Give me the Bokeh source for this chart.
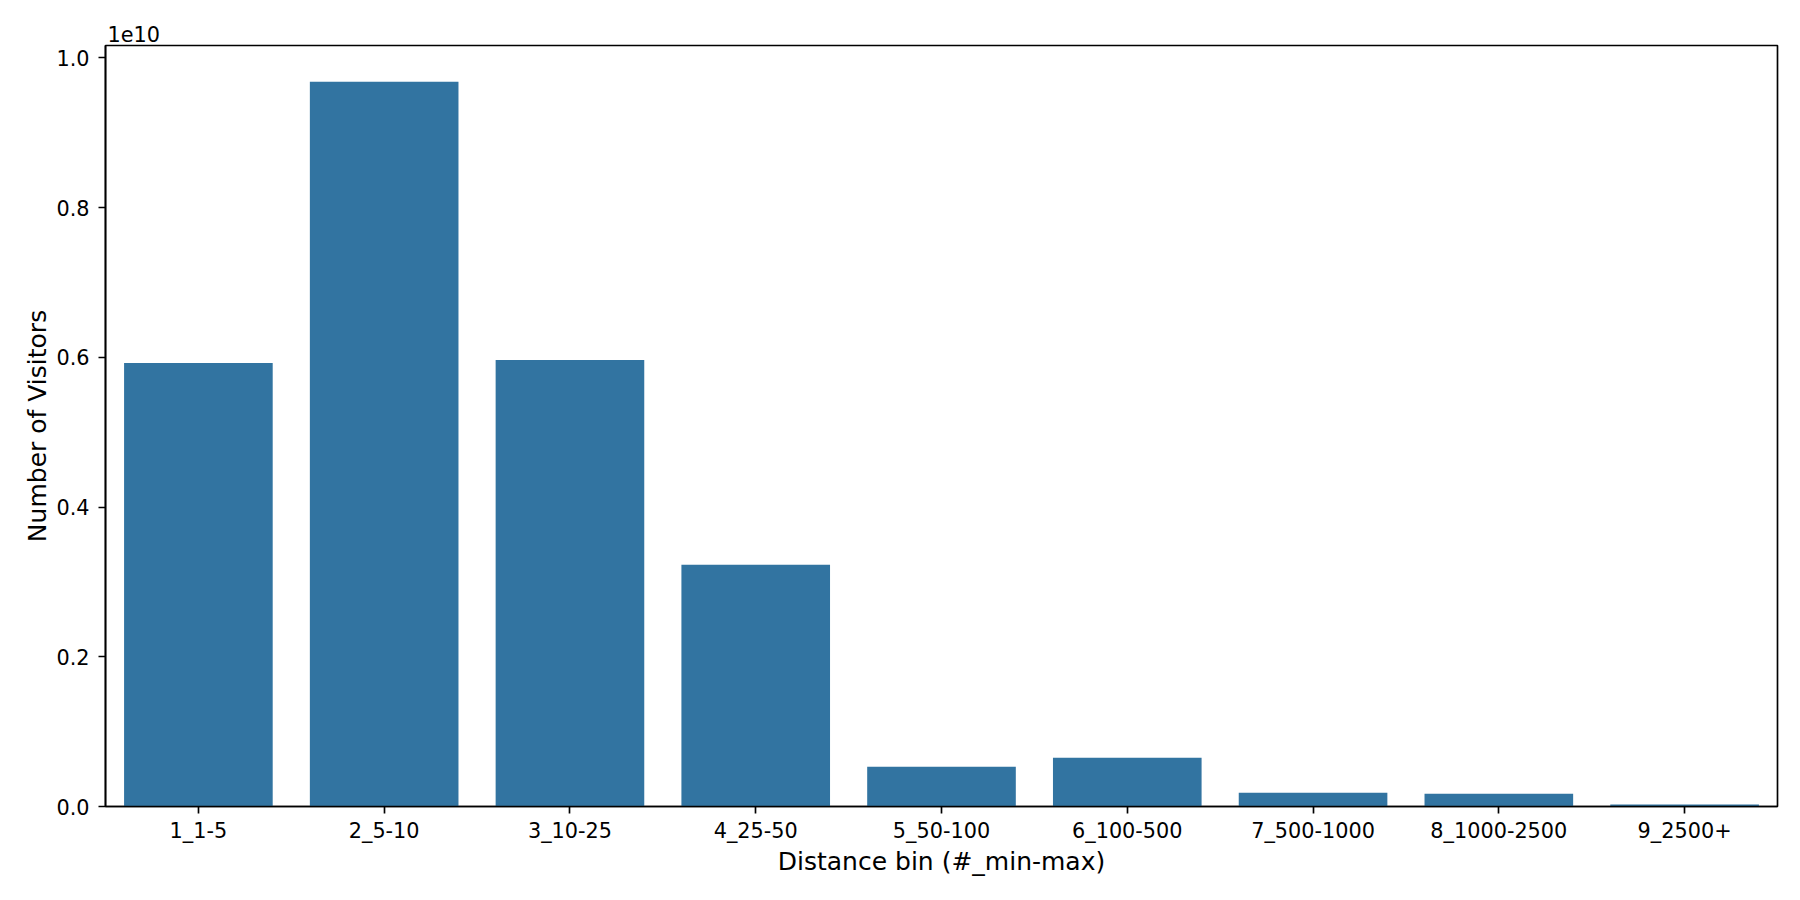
from bokeh.plotting import figure
from bokeh.models import ColumnDataSource, FixedTicker, CustomJSTickFormatter, Range1d
from bokeh.embed import file_html
from bokeh.resources import INLINE

categories = ["1_1-5", "2_5-10", "3_10-25", "4_25-50", "5_50-100",
              "6_100-500", "7_500-1000", "8_1000-2500", "9_2500+"]
visitors = [5.925e9, 9.68e9, 5.965e9, 3.228e9, 5.32e8,
            6.52e8, 1.83e8, 1.70e8, 2.7e7]
y_ticks = [0, 2e9, 4e9, 6e9, 8e9, 1e10]

FONT = "DejaVu Sans"
TXT = "#000000"

src = ColumnDataSource(dict(cat=categories, val=visitors))

p = figure(x_range=categories, width=1784, height=884,
           output_backend="svg", toolbar_location=None,
           min_border_left=105, min_border_right=7,
           min_border_top=45, min_border_bottom=78)
p.y_range = Range1d(0, max(visitors) * 1.05)

p.vbar(x="cat", top="val", width=0.8, source=src,
       fill_color="#3274a1", line_color=None)

p.grid.visible = False
p.outline_line_color = "black"
p.outline_line_width = 1.67
p.background_fill_color = "white"
p.border_fill_color = "white"

# title used as the matplotlib offset text "1e10"
p.title.text = "1e10"
p.title.align = "left"
p.title.text_font = FONT
p.title.text_font_size = "20.8px"
p.title.text_font_style = "normal"
p.title.text_color = TXT
p.title.offset = 2
p.title.standoff = 7

for ax in (p.xaxis[0], p.yaxis[0]):
    ax.axis_line_color = "black"
    ax.axis_line_width = 1.67
    ax.major_tick_line_color = "black"
    ax.major_tick_line_width = 1.67
    ax.major_tick_out = 7
    ax.major_tick_in = 0
    ax.minor_tick_line_color = None
    ax.major_label_text_font = FONT
    ax.major_label_text_font_size = "20.8px"
    ax.major_label_text_color = TXT
    ax.axis_label_text_font = FONT
    ax.axis_label_text_font_size = "25px"
    ax.axis_label_text_font_style = "normal"
    ax.axis_label_text_color = TXT

p.xaxis.axis_label = "Distance bin (#_min-max)"
p.xaxis.major_label_standoff = 5
p.xaxis.axis_label_standoff = 1

p.yaxis.axis_label = "Number of Visitors"
p.yaxis.ticker = FixedTicker(ticks=y_ticks)
p.yaxis.formatter = CustomJSTickFormatter(code="return (tick/1e10).toFixed(1);")
p.yaxis.major_label_standoff = 9
p.yaxis.axis_label_standoff = 1

open("out.html", "w").write(file_html(p, INLINE))
